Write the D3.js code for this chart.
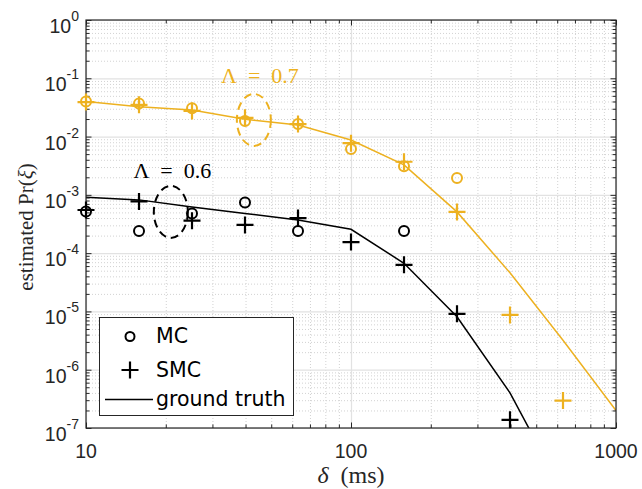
<!DOCTYPE html>
<html>
<head>
<meta charset="utf-8">
<script src="https://cdn.jsdelivr.net/npm/d3@7"></script>
<style>
  html, body { margin: 0; padding: 0; background: #fff; }
  svg { display: block; }
</style>
</head>
<body>
<svg id="chart" width="642" height="489"></svg>
<script>
// ---------------- data ----------------
const deltaMs = [10, 15.85, 25.12, 39.81, 63.10, 100, 158.5, 251.2, 398.1, 630.96, 1000];

// ground truth curves
const truth07 = [0.040, 0.0326, 0.0286, 0.0198, 0.0158, 0.00875, 0.00326, 5.1e-4, 4.6e-5, 3.2e-6, 2.0e-7];
const truth06 = [9.1e-4, 8.2e-4, 6.2e-4, 4.8e-4, 3.7e-4, 2.57e-4, 6.7e-5, 8.1e-6, 4.0e-7, 8e-9];

// MC estimates (null = no estimate)
const mc07 = [0.040, 0.037, 0.0306, 0.0185, 0.0164, 0.0061, 0.0031, 0.00195];
const mc06 = [5.2e-4, 2.4e-4, 4.8e-4, 7.4e-4, 2.4e-4, null, 2.4e-4];

// SMC estimates
const smc07 = [0.039, 0.035, 0.0275, 0.021, 0.0164, 0.0077, 0.0037, 5.1e-4, 8.7e-6, 2.95e-7];
const smc06 = [5.5e-4, 7.7e-4, 3.6e-4, 3.05e-4, 4.0e-4, 1.55e-4, 6.3e-5, 9.1e-6, 1.38e-7];

const xMajor = [10, 100, 1000];
const yMajorExp = [0, -1, -2, -3, -4, -5, -6, -7];
const legendLabels = ["MC", "SMC", "ground truth"];

// annotations: label position and ellipse centre, in data coordinates [delta, prob]
const annot07 = {label: "\u039B\u2002=\u20020.7", labelAt: [32.3, 0.082], ellipse: [43.0, 0.0193]};
const annot06 = {label: "\u039B\u2002=\u20020.6", labelAt: [15.1, 1.97e-3], ellipse: [20.9, 5.1e-4]};

// ---------------- layout ----------------
const orange = "#EDB120", black = "#000000", axisCol = "#262626";
const L = 86, R = 616, T = 20, B = 428;
const svg = d3.select("#chart");

const x = d3.scaleLog().domain([10, 1000]).range([L, R]);
const y = d3.scaleLog().domain([1e-7, 1]).range([B, T]);

const xMinor = [];
for (let d = 10; d < 1000; d *= 10) for (let k = 2; k <= 9; k++) xMinor.push(d * k);
const yMajor = yMajorExp.map(e => Math.pow(10, e));
const yMinor = [];
for (let e = -7; e < 0; e++) for (let k = 2; k <= 9; k++) yMinor.push(k * Math.pow(10, e));

// ---------- grid ----------
const grid = svg.append("g");
const minorCol = "#d2d2d2";
grid.append("g").attr("transform", `translate(0,${B})`)
  .call(d3.axisBottom(x).tickValues(xMinor).tickSize(-(B - T)).tickFormat(""))
  .call(g => g.select(".domain").remove())
  .call(g => g.selectAll("line").attr("stroke", minorCol).attr("stroke-dasharray", "1,2"));
grid.append("g").attr("transform", `translate(${L},0)`)
  .call(d3.axisLeft(y).tickValues(yMinor).tickSize(-(R - L)).tickFormat(""))
  .call(g => g.select(".domain").remove())
  .call(g => g.selectAll("line").attr("stroke", minorCol).attr("stroke-dasharray", "1,2"));
grid.append("g").attr("transform", `translate(0,${B})`)
  .call(d3.axisBottom(x).tickValues(xMajor).tickSize(-(B - T)).tickFormat(""))
  .call(g => g.select(".domain").remove())
  .call(g => g.selectAll("line").attr("stroke", "#e2e2e2").attr("stroke-width", 1.2));
grid.append("g").attr("transform", `translate(${L},0)`)
  .call(d3.axisLeft(y).tickValues(yMajor).tickSize(-(R - L)).tickFormat(""))
  .call(g => g.select(".domain").remove())
  .call(g => g.selectAll("line").attr("stroke", "#e2e2e2").attr("stroke-width", 1.2));

// ---------- clip (lines only) ----------
svg.append("defs").append("clipPath").attr("id", "plotclip")
  .append("rect").attr("x", L).attr("y", T).attr("width", R - L).attr("height", B - T);
const plot = svg.append("g").attr("clip-path", "url(#plotclip)");

// ---------- ground-truth lines ----------
const line = d3.line().x(d => x(d[0])).y(d => y(d[1]));
const pairs = arr => arr.map((v, i) => [deltaMs[i], v]).filter(d => d[1] != null);
plot.append("path").datum(pairs(truth07)).attr("d", line)
  .attr("fill", "none").attr("stroke", orange).attr("stroke-width", 1.5);
plot.append("path").datum(pairs(truth06)).attr("d", line)
  .attr("fill", "none").attr("stroke", black).attr("stroke-width", 1.5);

// ---------- annotations ----------
function annotate(a, col) {
  svg.append("ellipse")
    .attr("cx", x(a.ellipse[0])).attr("cy", y(a.ellipse[1]))
    .attr("rx", 17).attr("ry", 26)
    .attr("fill", "none").attr("stroke", col).attr("stroke-width", 2)
    .attr("stroke-dasharray", "8,5");
  svg.append("text")
    .attr("x", x(a.labelAt[0])).attr("y", y(a.labelAt[1]))
    .attr("font-family", "'Liberation Serif', serif").attr("font-size", 22)
    .attr("fill", col).text(a.label);
}
annotate(annot07, orange);
annotate(annot06, black);

// ---------- axes (ticks inward, box) ----------
const axes = svg.append("g");
function styleAx(g) {
  g.select(".domain").remove();
  g.selectAll("line").attr("stroke", axisCol);
}
axes.append("g").attr("transform", `translate(0,${B})`)
  .call(d3.axisBottom(x).tickValues(xMinor).tickSize(-3.5).tickFormat("")).call(styleAx);
axes.append("g").attr("transform", `translate(0,${B})`)
  .call(d3.axisBottom(x).tickValues(xMajor).tickSize(-5.5).tickFormat("")).call(styleAx);
axes.append("g").attr("transform", `translate(0,${T})`)
  .call(d3.axisTop(x).tickValues(xMinor).tickSize(-3.5).tickFormat("")).call(styleAx);
axes.append("g").attr("transform", `translate(0,${T})`)
  .call(d3.axisTop(x).tickValues(xMajor).tickSize(-5.5).tickFormat("")).call(styleAx);
axes.append("g").attr("transform", `translate(${L},0)`)
  .call(d3.axisLeft(y).tickValues(yMinor).tickSize(-3.5).tickFormat("")).call(styleAx);
axes.append("g").attr("transform", `translate(${L},0)`)
  .call(d3.axisLeft(y).tickValues(yMajor).tickSize(-5.5).tickFormat("")).call(styleAx);
axes.append("g").attr("transform", `translate(${R},0)`)
  .call(d3.axisRight(y).tickValues(yMinor).tickSize(-3.5).tickFormat("")).call(styleAx);
axes.append("g").attr("transform", `translate(${R},0)`)
  .call(d3.axisRight(y).tickValues(yMajor).tickSize(-5.5).tickFormat("")).call(styleAx);
axes.append("rect").attr("x", L).attr("y", T).attr("width", R - L).attr("height", B - T)
  .attr("fill", "none").attr("stroke", axisCol).attr("stroke-width", 1.2);

// ---------- markers (not clipped, drawn over the axes like MATLAB) ----------
const marks = svg.append("g");
const plusPath = s => `M${-s},0H${s}M0,${-s}V${s}`;
function circles(arr, col) {
  marks.append("g").selectAll("circle").data(pairs(arr)).join("circle")
    .attr("cx", d => x(d[0])).attr("cy", d => y(d[1])).attr("r", 5)
    .attr("fill", "none").attr("stroke", col).attr("stroke-width", 2);
}
function pluses(arr, col) {
  marks.append("g").selectAll("path").data(pairs(arr)).join("path")
    .attr("transform", d => `translate(${x(d[0])},${y(d[1])})`)
    .attr("d", plusPath(8.5))
    .attr("fill", "none").attr("stroke", col).attr("stroke-width", 2.2);
}
circles(mc07, orange);
pluses(smc07, orange);
circles(mc06, black);
pluses(smc06, black);

// tick labels
const tickFont = "'Liberation Sans', Arial, sans-serif";
axes.append("g").selectAll("text").data(xMajor).join("text")
  .attr("x", d => x(d)).attr("y", B + 29.5).attr("text-anchor", "middle")
  .attr("font-family", tickFont).attr("font-size", 19.5).attr("fill", axisCol)
  .text(d => d);
const yl = axes.append("g").selectAll("text").data(yMajorExp).join("text")
  .attr("x", L - 7).attr("y", e => y(Math.pow(10, e)) + 13).attr("text-anchor", "end")
  .attr("font-family", tickFont).attr("fill", axisCol);
yl.append("tspan").attr("font-size", 19.5).text("10");
yl.append("tspan").attr("font-size", 14).attr("dy", -12).text(e => String(e));

// axis titles
const serif = "'Liberation Serif', 'Times New Roman', serif";
const xt = svg.append("text").attr("x", (L + R) / 2).attr("y", 483)
  .attr("text-anchor", "middle").attr("font-family", serif).attr("font-size", 24).attr("fill", axisCol);
xt.append("tspan").attr("font-style", "italic").text("\u03B4");
xt.append("tspan").text("\u2002(ms)");
const yt = svg.append("text").attr("transform", `translate(33,${(T + B) / 2 + 3}) rotate(-90)`)
  .attr("text-anchor", "middle").attr("font-family", serif).attr("font-size", 21).attr("fill", axisCol);
yt.append("tspan").text("estimated Pr(");
yt.append("tspan").attr("font-style", "italic").text("\u03BE");
yt.append("tspan").text(")");

// ---------- legend ----------
const lg = svg.append("g");
lg.append("rect").attr("x", 99.5).attr("y", 317.5).attr("width", 194).attr("height", 98)
  .attr("fill", "#fff").attr("stroke", axisCol).attr("stroke-width", 1);
const rows = [336.5, 370, 399.5];
lg.append("circle").attr("cx", 130).attr("cy", rows[0]).attr("r", 4.5)
  .attr("fill", "none").attr("stroke", black).attr("stroke-width", 2);
lg.append("path").attr("transform", `translate(130,${rows[1]})`).attr("d", plusPath(8.5))
  .attr("fill", "none").attr("stroke", black).attr("stroke-width", 2.2);
lg.append("line").attr("x1", 105).attr("x2", 153).attr("y1", rows[2]).attr("y2", rows[2])
  .attr("stroke", black).attr("stroke-width", 1.5);
lg.selectAll("text.lt").data(legendLabels).join("text").attr("class", "lt")
  .attr("x", 156).attr("y", (d, i) => rows[i] + 6.5)
  .attr("font-family", "'DejaVu Sans', sans-serif").attr("font-size", 20.5).attr("fill", black)
  .text(d => d);
</script>
</body>
</html>
